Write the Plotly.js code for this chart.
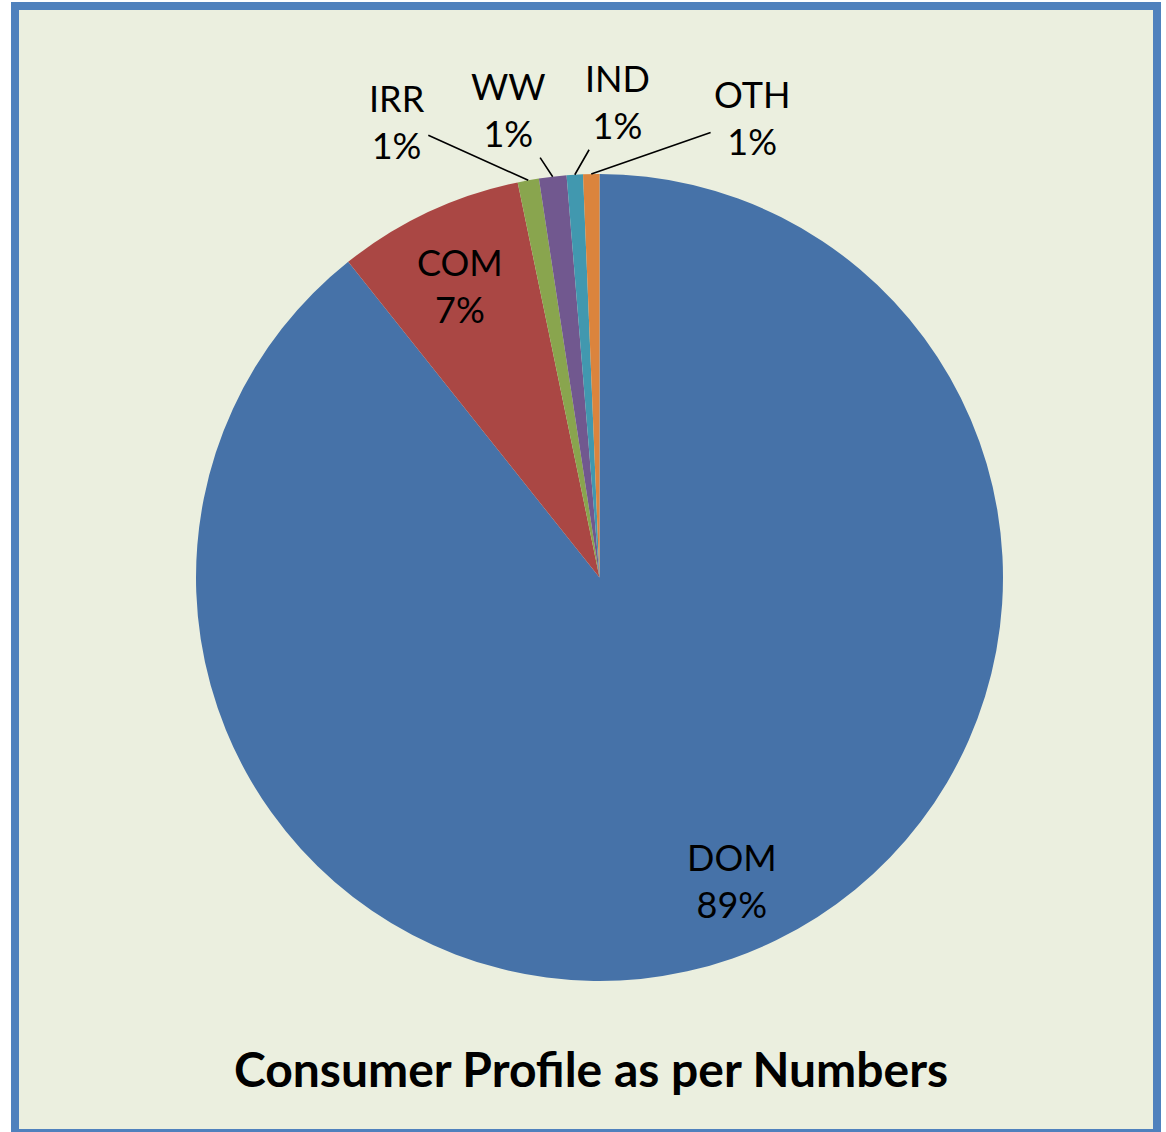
<!DOCTYPE html>
<html>
<head>
<meta charset="utf-8">
<script src="https://cdn.plot.ly/plotly-3.0.1.min.js"></script>
<style>html,body{margin:0;padding:0;background:#fff}#chart{width:1166px;height:1132px}</style>
</head>
<body>
<div id="chart"></div>
<script>
const categories = ['DOM', 'COM', 'IRR', 'WW', 'IND', 'OTH'];
const shares = [89.3, 7.45, 0.85, 1.1, 0.65, 0.65];
const sliceColors = ['#4672A8', '#AA4744', '#89A54E', '#71588F', '#4198AF', '#DB843D'];
const chartTitle = 'Consumer Profile as per Numbers';

// label placement (pixels) and whether a leader line is drawn
const labelCenters = [[732, 880], [460, 285], [397, 121], [508, 109], [617, 101], [752, 118]];
const labelLeaders = [false, false, true, true, true, true];

const W = 1166, H = 1132;
const cx = 599.5, cy = 577.5, r = 403.5;
const FONT = 'Lato, "Open Sans", sans-serif';

const trace = {
  type: 'pie',
  labels: categories,
  values: shares,
  sort: false,
  direction: 'clockwise',
  rotation: 0,
  marker: {colors: sliceColors, line: {width: 0}},
  textinfo: 'none',
  hoverinfo: 'label+percent',
  showlegend: false,
  automargin: false,
  domain: {x: [(cx - r) / W, (cx + r) / W], y: [1 - (cy + r) / H, 1 - (cy - r) / H]}
};

const total = shares.reduce((a, b) => a + b, 0);
let cum = 0;
const annotations = categories.map((cat, i) => {
  const start = cum / total * 2 * Math.PI;
  cum += shares[i];
  const end = cum / total * 2 * Math.PI;
  const mid = (start + end) / 2;
  const pct = Math.round(shares[i] / total * 100);
  const text = cat + '<br>' + pct + '%';
  const [lx, ly] = labelCenters[i];
  if (labelLeaders[i]) {
    const hx = cx + r * Math.sin(mid), hy = cy - r * Math.cos(mid);
    return {
      xref: 'paper', yref: 'paper', x: hx / W, y: 1 - hy / H,
      axref: 'pixel', ayref: 'pixel', ax: lx - hx, ay: ly - hy,
      text: text, showarrow: true, arrowhead: 0, arrowwidth: 1.6, arrowcolor: '#000',
      standoff: 0, startstandoff: 2,
      font: {family: FONT, size: 36, color: '#000'}, align: 'center'
    };
  }
  return {
    xref: 'paper', yref: 'paper', x: lx / W, y: 1 - ly / H,
    xanchor: 'center', yanchor: 'middle', showarrow: false,
    text: text, font: {family: FONT, size: 36, color: '#000'}, align: 'center'
  };
});

const layout = {
  width: W, height: H,
  margin: {l: 0, r: 0, t: 0, b: 0},
  paper_bgcolor: '#ffffff',
  showlegend: false,
  title: {
    text: '<b>' + chartTitle + '</b>',
    font: {family: FONT, size: 48, color: '#000'},
    x: 591 / W, xanchor: 'center', xref: 'paper',
    y: 1 - 1070 / H, yanchor: 'middle', yref: 'paper'
  },
  annotations: annotations,
  shapes: [{
    type: 'rect', xref: 'paper', yref: 'paper', layer: 'below',
    x0: 15 / W, x1: 1157 / W, y0: 1 - 1133 / H, y1: 1 - 6 / H,
    fillcolor: '#EBEFDF', line: {color: '#4F81BD', width: 8}
  }]
};

Plotly.newPlot('chart', [trace], layout, {displayModeBar: false, staticPlot: true});
</script>
</body>
</html>
